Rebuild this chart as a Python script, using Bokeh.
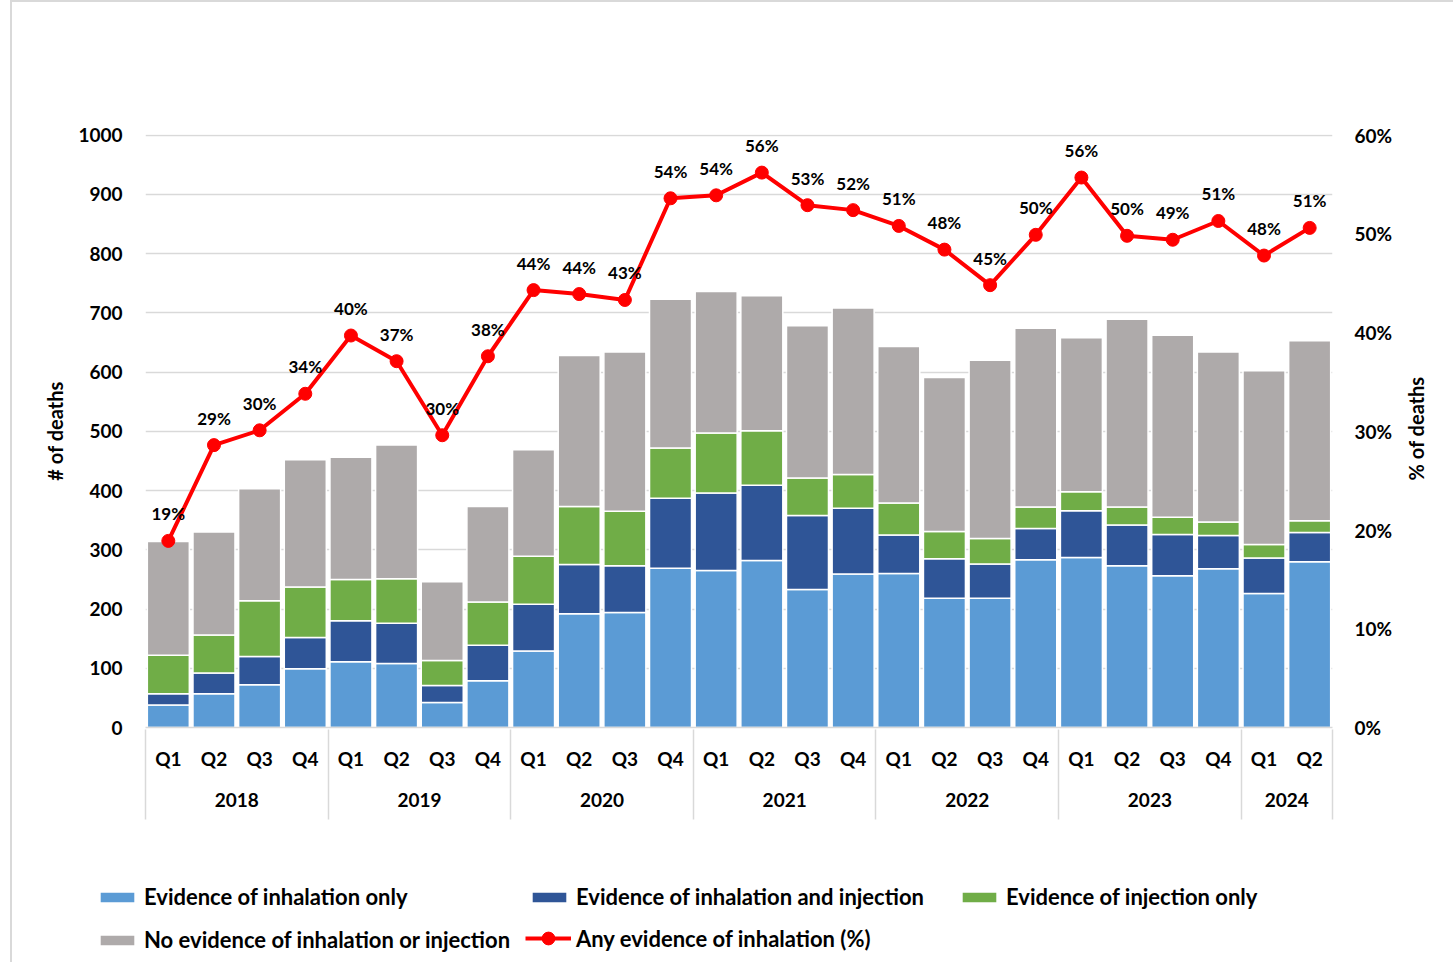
import math
from bokeh.plotting import figure
from bokeh.models import (FactorRange, Range1d, LinearAxis, FixedTicker, Label,
                          NumeralTickFormatter, Legend, LegendItem, ColumnDataSource)
from bokeh.core.properties import value
from bokeh.embed import file_html
from bokeh.resources import INLINE

years = ["2018"] * 4 + ["2019"] * 4 + ["2020"] * 4 + ["2021"] * 4 + ["2022"] * 4 + ["2023"] * 4 + ["2024"] * 2
quarters = ["Q1", "Q2", "Q3", "Q4"] * 6 + ["Q1", "Q2"]

inhalation_only = [38, 57, 72, 99, 111, 108, 42, 79, 129, 192, 194, 269, 265, 282, 233, 259,
                   260, 218, 218, 283, 287, 273, 256, 268, 226, 280]
inhalation_and_injection = [19, 35, 48, 53, 69, 68, 29, 60, 79, 83, 79, 118, 131, 127, 125, 111,
                            65, 67, 58, 53, 79, 69, 70, 56, 60, 49]
injection_only = [65, 64, 94, 85, 70, 75, 42, 73, 81, 98, 92, 85, 101, 92, 63, 57,
                  54, 46, 43, 36, 32, 30, 29, 23, 23, 20]
no_evidence = [192, 174, 189, 215, 206, 226, 133, 161, 180, 255, 269, 251, 239, 228, 257, 281,
               264, 260, 301, 302, 260, 317, 307, 287, 293, 304]
any_inhalation_pct = [18.9, 28.6, 30.1, 33.8, 39.7, 37.1, 29.6, 37.6, 44.3, 43.9, 43.3, 53.6, 53.9,
                      56.2, 52.9, 52.4, 50.8, 48.4, 44.8, 49.9, 55.7, 49.8, 49.4, 51.3, 47.8, 50.6]
left_ticks = [0, 100, 200, 300, 400, 500, 600, 700, 800, 900, 1000]
right_ticks = [0, 0.1, 0.2, 0.3, 0.4, 0.5, 0.6]

series_names = ["Evidence of inhalation only", "Evidence of inhalation and injection",
                "Evidence of injection only", "No evidence of inhalation or injection"]
line_name = "Any evidence of inhalation (%)"
left_title = "# of deaths"
right_title = "% of deaths"
colors = ["#5B9BD5", "#2F5597", "#70AD47", "#AEAAAA"]
RED = "#FF0000"
GRID = "#D9D9D9"
FONT = "Lato"
LEGEND_FONT_SIZE = "22px"

factors = list(zip(years, quarters))
n = len(factors)
year_names = sorted(set(years))
year_bounds = [0] + [i for i in range(1, n) if years[i] != years[i - 1]] + [n]
year_centers = [(a + b) // 2 for a, b in zip(year_bounds[:-1], year_bounds[1:])]

source = ColumnDataSource(dict(
    x=factors,
    inh=inhalation_only,
    both=inhalation_and_injection,
    inj=injection_only,
    none=no_evidence,
    pct=[v / 100 for v in any_inhalation_pct],
    lab=[f"{round(v)}%" for v in any_inhalation_pct],
))

W = 1443
p = figure(width=W, height=866, output_backend="svg", toolbar_location=None, title=None,
           x_range=FactorRange(*factors, range_padding=0, group_padding=0, subgroup_padding=0),
           y_range=Range1d(0, 1001),
           min_border_left=133, min_border_top=132, min_border_right=123, min_border_bottom=141)
p.extra_y_ranges = {"pct": Range1d(0, 0.6006)}
p.outline_line_color = None
p.styles = {"margin-left": "10px", "border-left": f"2px solid {GRID}",
            "border-top": f"2px solid {GRID}"}

bars = p.vbar_stack(["inh", "both", "inj", "none"], x="x", width=0.92, color=colors,
                    line_color="white", line_width=1.5, source=source)

ln = p.line(x="x", y="pct", y_range_name="pct", line_color=RED, line_width=4, source=source)
sc = p.scatter(x="x", y="pct", y_range_name="pct", size=13, color=RED, source=source)
p.text(x="x", y="pct", text="lab", y_range_name="pct", y_offset=-27, text_align="center",
       text_baseline="middle", text_font=value(FONT), text_font_style="bold",
       text_font_size="17px", text_color="black", source=source)


def style_axis(ax):
    ax.major_tick_line_color = None
    ax.minor_tick_line_color = None
    ax.major_tick_out = 0
    ax.major_tick_in = 0
    ax.minor_tick_out = 0
    ax.minor_tick_in = 0
    ax.major_label_text_font = FONT
    ax.major_label_text_font_style = "bold"
    ax.major_label_text_font_size = "19px"
    ax.major_label_text_color = "black"
    ax.axis_label_text_font = FONT
    ax.axis_label_text_font_style = "bold"
    ax.axis_label_text_font_size = "20px"
    ax.axis_label_text_color = "black"


yax = p.yaxis[0]
style_axis(yax)
yax.ticker = FixedTicker(ticks=left_ticks)
yax.axis_line_color = None
yax.major_label_standoff = 23
yax.axis_label = left_title
yax.axis_label_standoff = 8

rax = LinearAxis(y_range_name="pct", ticker=FixedTicker(ticks=right_ticks),
                 formatter=NumeralTickFormatter(format="0%"))
style_axis(rax)
rax.axis_line_color = None
rax.major_label_standoff = 22
p.add_layout(rax, "right")

# quarter labels (categorical axis; the built-in group row is hidden)
xax = p.xaxis[0]
style_axis(xax)
xax.axis_line_color = GRID
xax.axis_line_width = 1.5
xax.major_label_standoff = 19
xax.group_text_font_size = "1px"
xax.group_text_color = None
xax.separator_line_color = None

# year labels centred under each year, with separator lines at the year boundaries
yr = LinearAxis(ticker=FixedTicker(ticks=year_centers, minor_ticks=year_bounds))
yr.major_label_overrides = {c: y for c, y in zip(year_centers, year_names)}
yr.axis_line_color = None
yr.major_tick_line_color = None
yr.major_tick_in = 0
yr.major_tick_out = 0
yr.minor_tick_line_color = GRID
yr.minor_tick_line_width = 1.5
yr.minor_tick_in = 43
yr.minor_tick_out = 47
yr.major_label_standoff = -27
yr.major_label_text_font = FONT
yr.major_label_text_font_style = "bold"
yr.major_label_text_font_size = "19px"
yr.major_label_text_color = "black"
p.add_layout(yr, "below")

p.xgrid.grid_line_color = None
p.ygrid.grid_line_color = GRID
p.ygrid.grid_line_width = 1.5

# legend panel (its proxy glyphs use the same data but sit far outside its view)
lg = figure(width=W, height=96, output_backend="svg", toolbar_location=None, title=None,
            x_range=FactorRange(*factors, range_padding=0, group_padding=0, subgroup_padding=0),
            y_range=Range1d(5000, 5001), x_axis_type=None, y_axis_type=None,
            min_border=0, min_border_left=0, min_border_right=0, min_border_top=0,
            min_border_bottom=0)
lg.outline_line_color = None
lg.grid.visible = False
lg.styles = {"margin-left": "10px", "border-left": f"2px solid {GRID}"}

proxies = lg.vbar_stack(["inh", "both", "inj", "none"], x="x", width=0.92, color=colors,
                        line_color=None, source=source)
legend_positions = [(84, 52), (516, 52), (946, 52), (84, 9)]
for name, r, loc in zip(series_names, proxies, legend_positions):
    lg.add_layout(Legend(items=[LegendItem(label=name, renderers=[r])], location=loc,
                         glyph_width=42, glyph_height=12, label_standoff=6, padding=0, margin=0,
                         border_line_color=None, background_fill_alpha=0, label_height=22,
                         label_text_font=FONT, label_text_font_style="bold",
                         label_text_font_size=LEGEND_FONT_SIZE, label_text_color="black"),
                  "center")
lr = lg.line(x="x", y="pct", line_color=RED, line_width=4, source=source)
ls = lg.scatter(x="x", y="pct", size=12, color=RED, source=source)
lg.add_layout(Legend(items=[LegendItem(label=line_name, renderers=[lr, ls])], location=(513, 8),
                     glyph_width=46, glyph_height=32, label_standoff=5, padding=0, margin=0,
                     border_line_color=None, background_fill_alpha=0, label_height=32,
                     label_text_font=FONT, label_text_font_style="bold",
                     label_text_font_size=LEGEND_FONT_SIZE, label_text_color="black"), "center")

# right axis title, overlaid beside the right axis (reads bottom to top)
rt = figure(width=40, height=140, output_backend="svg", toolbar_location=None, title=None,
            x_range=Range1d(0, 1), y_range=Range1d(0, 1), x_axis_type=None, y_axis_type=None,
            min_border=0, min_border_left=0, min_border_right=0, min_border_top=0,
            min_border_bottom=0)
rt.outline_line_color = None
rt.grid.visible = False
rt.background_fill_alpha = 0
rt.border_fill_alpha = 0
rt.styles = {"margin-left": "1395px", "margin-top": "-604px"}
rt.add_layout(Label(x=20, y=70, x_units="screen", y_units="screen", text=right_title,
                    angle=math.pi / 2, text_align="center", text_baseline="middle",
                    text_font=FONT, text_font_style="bold", text_font_size="20px",
                    text_color="black"))

open("out.html", "w").write(file_html([p, lg, rt], INLINE))
